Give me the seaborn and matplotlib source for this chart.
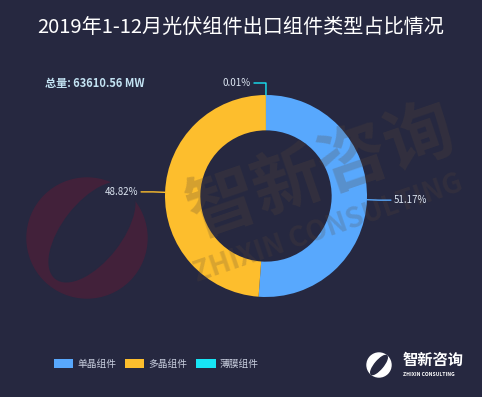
import matplotlib.pyplot as plt
import seaborn as sns
import numpy as np
from matplotlib.patches import Circle, Ellipse, Patch

categories = ['单晶组件', '多晶组件', '薄膜组件']
shares = [51.17, 48.82, 0.01]
colors = ['#58a8fd', '#fdbe2d', '#17e5f5']
total_label = '总量: 63610.56 MW'
title = '2019年1-12月光伏组件出口组件类型占比情况'

bg = '#262840'
sns.set_style('white')
plt.rcParams['font.family'] = ['Noto Sans CJK SC', 'DejaVu Sans']

W, H = 482, 397
fig = plt.figure(figsize=(W / 100, H / 100), dpi=100, facecolor=bg)
ax = fig.add_axes([0, 0, 1, 1])
ax.set_facecolor(bg)

# faint red watermark logo on the left
ax.add_patch(Circle((87, H - 238), 60, color='#42213a', zorder=0))
ax.add_patch(Ellipse((92, H - 232), 58, 118, angle=-38, color=bg, zorder=0))

cx, cy, r = 266, H - 196, 101
wedges, _ = ax.pie(shares, colors=colors, startangle=90, counterclock=False,
                   center=(cx, cy), radius=r, frame=True,
                   wedgeprops=dict(width=r * 0.35, linewidth=0))
ax.set_xlim(0, W)
ax.set_ylim(0, H)
ax.set_aspect('equal')
ax.axis('off')

# big faint watermark text
ax.text(322, H - 172, '智新咨询', fontsize=50, fontweight='bold', color='#5a4838',
        alpha=0.25, rotation=19, ha='center', va='center', zorder=5)
ax.text(328, H - 228, 'ZHIXIN CONSULTING', fontsize=20, fontweight='bold', color='#5a4838',
        alpha=0.22, rotation=19, ha='center', va='center', zorder=5)

# echarts-style label lines
for w, s, c in zip(wedges, shares, colors):
    ang = np.deg2rad((w.theta1 + w.theta2) / 2)
    x0, y0 = cx + r * np.cos(ang), cy + r * np.sin(ang)
    x1, y1 = cx + (r + 12) * np.cos(ang), cy + (r + 12) * np.sin(ang)
    side = 1 if np.cos(ang) > 0.001 else -1
    x2 = x1 + side * 12
    ax.plot([x0, x1, x2], [y0, y1, y1], color=c, lw=1, zorder=6)
    ax.text(x2 + side * 3, y1, f'{s:.2f}%', color='#dde6f2', fontsize=7,
            ha='left' if side > 0 else 'right', va='center', zorder=6)

fig.text(241 / W, 1 - 27 / H, title, color='white', fontsize=14.5,
         fontweight='medium', ha='center', va='center')
fig.text(45 / W, 1 - 84 / H, total_label, color='#c3e3f3', fontsize=8,
         fontweight='bold', ha='left', va='center')

handles = [Patch(facecolor=c, edgecolor='none') for c in colors]
leg = ax.legend(handles, categories, loc='center left', bbox_to_anchor=(50 / W, 1 - 364 / H),
                ncol=3, frameon=False, fontsize=7, handlelength=2.0, handleheight=1.1,
                handletextpad=0.4, columnspacing=0.9, borderaxespad=0)
for t in leg.get_texts():
    t.set_color('#c8cede')

# logo bottom right
ax.add_patch(Circle((379, H - 365), 12, color='white', zorder=6))
ax.add_patch(Ellipse((379, H - 365), 8, 24, angle=-40, color=bg, zorder=7))
ax.text(403, H - 360, '智新咨询', color='white', fontsize=11, fontweight='bold',
        ha='left', va='center', zorder=7)
ax.text(403, H - 375, 'ZHIXIN CONSULTING', color='white', fontsize=3.6,
        fontweight='bold', ha='left', va='center', zorder=7)

fig.savefig('out.png', dpi=100, facecolor=bg)
